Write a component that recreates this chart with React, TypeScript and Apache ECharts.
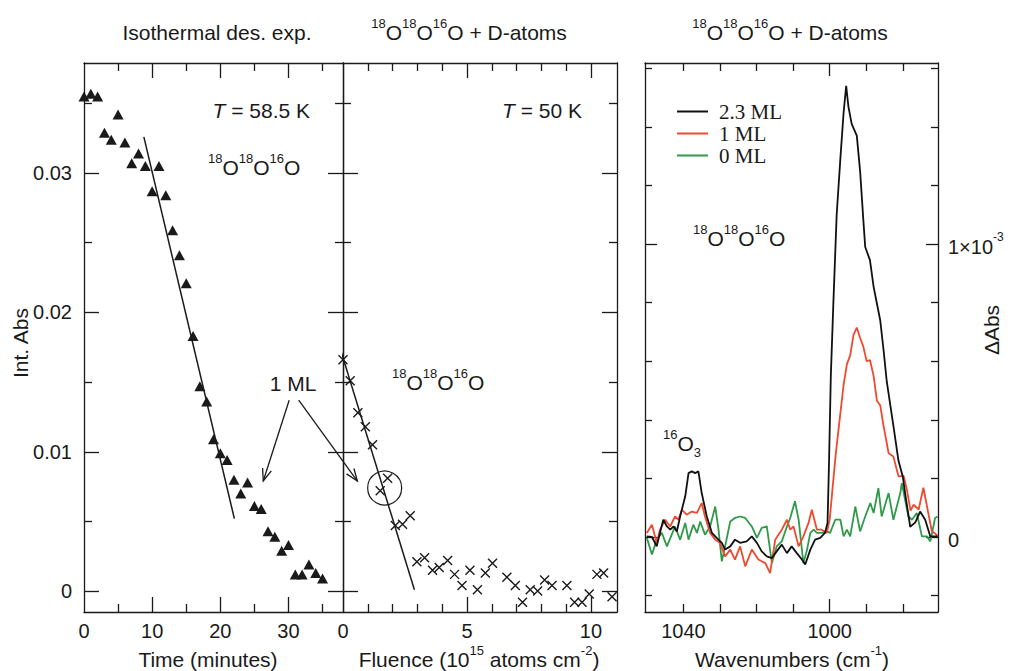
import { useEffect, useRef } from 'react';
import * as echarts from 'echarts';

const SANS = "'Liberation Sans', Arial, Helvetica, sans-serif";
const SERIF = "'Liberation Serif', 'Times New Roman', serif";
const INK = '#1a1a1a';

// ---------- Panel 1: isothermal desorption ----------
const timeMinutes = [0, 1, 2, 3, 4, 5, 6, 7, 8, 9, 10, 11, 12, 13, 14, 15, 16, 17, 18, 19, 20, 21, 22, 23, 24, 25, 26, 27, 28, 29, 30, 31, 32, 33, 34, 35];
const intAbsDesorption = [0.0355, 0.0357, 0.0355, 0.0329, 0.0324, 0.0342, 0.0322, 0.0307, 0.0314, 0.0305, 0.0287, 0.0305, 0.0284, 0.0259, 0.0241, 0.0221, 0.0183, 0.0147, 0.0136, 0.0109, 0.0099, 0.0094, 0.008, 0.007, 0.0078, 0.0061, 0.0059, 0.0043, 0.0039, 0.0029, 0.0033, 0.0012, 0.0012, 0.0019, 0.0013, 0.0009];
const fitTimeX = [8.78, 22.06];
const fitTimeY = [0.0326, 0.0052];

// ---------- Panel 2: D-atom fluence ----------
const fluence = [0.0, 0.29, 0.6, 0.9, 1.19, 1.5, 1.8, 2.11, 2.4, 2.71, 2.98, 3.29, 3.61, 3.88, 4.22, 4.5, 4.8, 5.12, 5.42, 5.74, 6.03, 6.61, 6.95, 7.24, 7.55, 7.85, 8.13, 8.43, 9.03, 9.34, 9.64, 9.93, 10.24, 10.51, 10.85];
const intAbsFluence = [0.0166, 0.0151, 0.0128, 0.0118, 0.0105, 0.0072, 0.0081, 0.0047, 0.0048, 0.0054, 0.0021, 0.0024, 0.0015, 0.0017, 0.0022, 0.0012, 0.0004, 0.0015, 0.0001, 0.0013, 0.002, 0.001, 0.0004, -0.0008, 0.0001, 0.0, 0.0008, 0.0004, 0.0004, -0.0008, -0.0008, -0.0002, 0.0012, 0.0013, -0.0004];
const fitFluenceX = [-0.2, 2.88];
const fitFluenceY = [0.0179, 0.0001];

// ---------- Panel 3: spectra (ΔAbs in units of 1e-3) ----------
const wn23 = [1050.0, 1048.6, 1047.3, 1046.4, 1045.5, 1044.5, 1043.6, 1042.7, 1041.8, 1040.9, 1039.5, 1038.6, 1037.7, 1036.8, 1035.9, 1035.0, 1033.6, 1032.2, 1030.9, 1029.5, 1028.6, 1027.2, 1025.9, 1024.5, 1022.7, 1021.3, 1019.9, 1018.6, 1017.2, 1015.8, 1014.5, 1013.1, 1011.7, 1010.4, 1009.0, 1007.6, 1006.7, 1005.3, 1004.0, 1002.6, 1001.3, 1000.6, 1000.2, 999.7, 999.0, 998.1, 997.1, 996.2, 995.5, 994.9, 994.0, 992.6, 991.7, 990.8, 990.3, 989.0, 988.0, 987.1, 986.2, 985.3, 984.4, 982.6, 981.2, 980.0, 979.4, 978.0, 976.6, 975.3, 973.9, 972.5, 970.5];
const abs23 = [0.002, 0.0, -0.032, 0.014, 0.059, 0.036, 0.025, 0.036, 0.019, 0.07, 0.139, 0.218, 0.224, 0.218, 0.224, 0.15, 0.07, 0.014, -0.003, -0.02, -0.043, -0.032, -0.009, -0.02, -0.015, 0.002, -0.02, -0.049, -0.066, -0.072, -0.049, -0.026, -0.055, -0.032, -0.055, -0.077, -0.094, -0.043, -0.009, -0.003, 0.014, 0.048, 0.25, 0.55, 0.8, 1.1, 1.29, 1.45, 1.54, 1.47, 1.41, 1.37, 1.25, 1.08, 0.99, 0.945, 0.854, 0.797, 0.74, 0.64, 0.53, 0.38, 0.26, 0.205, 0.15, 0.035, 0.05, 0.087, 0.059, 0.002, 0.002];

const wn1 = [1050.0, 1048.6, 1047.3, 1046.4, 1045.0, 1043.6, 1042.3, 1041.4, 1040.4, 1039.1, 1037.7, 1036.3, 1035.0, 1034.1, 1032.7, 1031.3, 1030.0, 1028.6, 1027.2, 1025.9, 1024.5, 1023.1, 1021.3, 1019.5, 1017.6, 1016.3, 1014.9, 1013.1, 1011.7, 1010.8, 1009.9, 1008.5, 1007.2, 1005.8, 1004.9, 1003.5, 1002.2, 1000.8, 1000.0, 999.2, 998.3, 997.2, 996.2, 995.3, 994.4, 993.5, 992.6, 991.7, 990.8, 989.9, 989.0, 988.0, 987.1, 986.2, 985.3, 983.9, 982.6, 981.2, 979.8, 978.9, 977.9, 977.1, 976.2, 975.7, 974.4, 973.4, 972.1, 971.0, 970.5];
const abs1 = [0.014, 0.042, -0.02, 0.025, 0.059, 0.036, 0.07, 0.059, 0.093, 0.076, 0.087, 0.082, 0.116, 0.07, 0.014, -0.009, -0.02, -0.066, -0.043, -0.077, -0.032, -0.1, -0.043, -0.077, -0.089, -0.123, -0.009, 0.025, 0.059, 0.025, 0.036, -0.032, 0.002, 0.048, 0.093, 0.025, 0.025, 0.014, 0.06, 0.17, 0.29, 0.41, 0.52, 0.59, 0.62, 0.69, 0.715, 0.68, 0.649, 0.6, 0.604, 0.55, 0.465, 0.45, 0.38, 0.286, 0.275, 0.207, 0.209, 0.161, 0.09, 0.11, 0.1, 0.093, 0.168, 0.104, 0.02, 0.01, 0.002];

const wn0 = [1050.0, 1048.6, 1047.3, 1045.9, 1044.5, 1043.2, 1042.3, 1040.9, 1039.5, 1038.6, 1037.3, 1036.3, 1035.4, 1034.1, 1032.7, 1031.3, 1030.4, 1029.5, 1028.6, 1027.2, 1025.9, 1024.5, 1023.1, 1021.3, 1019.9, 1018.6, 1017.2, 1015.8, 1014.5, 1013.1, 1011.7, 1010.8, 1009.5, 1008.5, 1007.2, 1006.3, 1005.3, 1004.4, 1003.5, 1002.2, 1000.8, 999.9, 998.5, 997.1, 996.2, 995.3, 994.4, 993.0, 991.7, 990.3, 988.9, 988.0, 986.7, 985.8, 983.9, 982.6, 980.7, 980.3, 979.4, 978.5, 977.5, 976.2, 974.8, 973.4, 972.5, 971.2, 970.5];
const abs0 = [-0.003, -0.06, -0.009, 0.014, -0.032, 0.008, 0.036, -0.009, 0.048, -0.009, 0.042, 0.014, 0.053, 0.008, 0.036, 0.104, 0.025, -0.083, -0.032, 0.053, 0.065, 0.07, 0.065, 0.036, -0.003, 0.031, 0.036, -0.089, -0.032, -0.015, 0.036, 0.065, 0.122, 0.059, -0.089, -0.049, 0.014, 0.025, 0.014, 0.014, 0.019, 0.014, 0.059, 0.059, 0.002, 0.025, 0.002, 0.104, 0.019, 0.07, 0.116, 0.082, 0.167, 0.07, 0.15, 0.059, 0.15, 0.184, 0.127, 0.07, 0.059, 0.082, 0.002, 0.002, -0.015, 0.065, 0.07];

const legendNames = ['2.3 ML', '1 ML', '0 ML'];
const spectraColors = ['#111111', '#ee4a2f', '#2f9a4a'];

// tick / label values
const timeLabels = [0, 10, 20, 30];
const timeMajor = [10, 20, 30];
const timeMinor = [5, 15, 25, 35];
const fluLabels = [0, 5, 10];
const fluMajor = [5, 10];
const fluMinor = [1, 2, 3, 4, 6, 7, 8, 9];
const absLabels = [0, 0.01, 0.02, 0.03];
const absMajor = [0, 0.01, 0.02, 0.03];
const absMinor = [0.005, 0.015, 0.025, 0.035];
const wnLabels = [1040, 1000];
const wnMajor = [1000];
const wnMinor = [980, 990, 1010, 1020, 1030, 1040];
const dLabels = [0, 1];
const dMajor = [0, 1];
const dMinor = [-0.2, 0.2, 0.4, 0.6, 0.8, 1.2, 1.4, 1.6];

const zip = (a: number[], b: number[]) => a.map((v, i) => [v, b[i]]);

const RICH_G: any = {
  n: { font: `21px ${SANS}`, fontFamily: SANS, fontSize: 21, lineHeight: 24, verticalAlign: 'middle', fill: INK },
  it: { font: `italic 21px ${SANS}`, fontFamily: SANS, fontSize: 21, fontStyle: 'italic', lineHeight: 24, verticalAlign: 'middle', fill: INK },
  sup: { font: `13px ${SANS}`, fontFamily: SANS, fontSize: 13, lineHeight: 13, padding: [0, 0, 18, 0], verticalAlign: 'middle', fill: INK },
  sub: { font: `13px ${SANS}`, fontFamily: SANS, fontSize: 13, lineHeight: 13, padding: [19, 0, 0, 0], verticalAlign: 'middle', fill: INK },
};

type AxisSpec = {
  grid: number; min: number; max: number; major: number[]; minor: number[];
  nearLabels?: number[]; farLabels?: number[]; majorLen: number; minorLen: number;
  inverse?: boolean; formatter?: (v: number) => string; rich?: any; margin?: number;
};

function makeAxes(dim: 'x' | 'y', s: AxisSpec) {
  const near = dim === 'x' ? 'bottom' : 'left';
  const far = dim === 'x' ? 'top' : 'right';
  const lineStyle = { color: INK, width: 1.3 };
  const mk = (position: string, ticks: number[], len: number, withLine: boolean, labels?: number[]) => ({
    type: 'value', gridIndex: s.grid, min: s.min, max: s.max, inverse: !!s.inverse, position,
    splitLine: { show: false },
    axisLine: { show: withLine, onZero: false, lineStyle },
    axisTick: { show: true, inside: true, length: len, customValues: ticks, lineStyle },
    axisLabel: labels
      ? { show: true, customValues: labels, formatter: s.formatter, margin: s.margin ?? 10, fontFamily: SANS, fontSize: 20, color: INK, rich: s.rich }
      : { show: false },
  });
  return [
    mk(near, s.major, s.majorLen, true, s.nearLabels),
    mk(near, s.minor, s.minorLen, false),
    mk(far, s.major, s.majorLen, true, s.farLabels),
    mk(far, s.minor, s.minorLen, false),
  ];
}

const Y_MIN = -0.0015;
const Y_MAX = 0.0379;

function buildOption() {
  const xAxes = [
    ...makeAxes('x', { grid: 0, min: 0, max: 38, major: timeMajor, minor: timeMinor, nearLabels: timeLabels, majorLen: 15, minorLen: 8, margin: 9, formatter: (v) => String(v) }),
    ...makeAxes('x', { grid: 1, min: 0, max: 11.05, major: fluMajor, minor: fluMinor, nearLabels: fluLabels, majorLen: 15, minorLen: 8, margin: 9, formatter: (v) => String(v) }),
    ...makeAxes('x', { grid: 2, min: 970.4, max: 1050.5, inverse: true, major: wnMajor, minor: wnMinor, nearLabels: wnLabels, majorLen: 13, minorLen: 8, margin: 9, formatter: (v) => String(v) }),
  ];
  const yAxes = [
    ...makeAxes('y', { grid: 0, min: Y_MIN, max: Y_MAX, major: absMajor, minor: absMinor, nearLabels: absLabels, majorLen: 15, minorLen: 8, margin: 12, formatter: (v) => (v === 0 ? '0' : v.toFixed(2)) }),
    ...makeAxes('y', { grid: 1, min: Y_MIN, max: Y_MAX, major: absMajor, minor: absMinor, majorLen: 15, minorLen: 8 }),
    ...makeAxes('y', {
      grid: 2, min: -0.256, max: 1.618, major: dMajor, minor: dMinor, farLabels: dLabels, majorLen: 12, minorLen: 7, margin: 10,
      formatter: (v) => (v === 0 ? '{n|0}' : '{n|1×10}{sup|-3}'),
      rich: {
        n: { fontFamily: SANS, fontSize: 20, color: INK, lineHeight: 26, verticalAlign: 'bottom' },
        sup: { fontFamily: SANS, fontSize: 12, color: INK, lineHeight: 12, verticalAlign: 'top' },
      },
    }),
  ];

  const spectra = [
    { name: legendNames[2], wn: wn0, v: abs0, color: spectraColors[2] },
    { name: legendNames[1], wn: wn1, v: abs1, color: spectraColors[1] },
    { name: legendNames[0], wn: wn23, v: abs23, color: spectraColors[0] },
  ];

  return {
    animation: false,
    backgroundColor: '#ffffff',
    grid: [
      { left: 84, top: 63, width: 259, height: 549 },
      { left: 343, top: 63, width: 274, height: 549 },
      { left: 645, top: 63, width: 293, height: 549 },
    ],
    xAxis: xAxes,
    yAxis: yAxes,
    legend: {
      data: legendNames,
      orient: 'vertical',
      left: 672,
      top: 96,
      itemWidth: 31,
      itemHeight: 2,
      itemGap: 1,
      icon: 'rect',
      selectedMode: false,
      textStyle: { fontFamily: SERIF, fontSize: 21, color: INK, lineHeight: 21, padding: [0, 0, 0, 6] },
    },
    series: [
      {
        type: 'scatter', name: 'desorption', xAxisIndex: 0, yAxisIndex: 0,
        data: zip(timeMinutes, intAbsDesorption), symbol: 'triangle', symbolSize: [11, 10],
        itemStyle: { color: INK, opacity: 1 },
      },
      {
        type: 'line', name: 'fitTime', xAxisIndex: 0, yAxisIndex: 0, data: zip(fitTimeX, fitTimeY),
        symbol: 'none', lineStyle: { color: INK, width: 1.5 },
      },
      {
        type: 'scatter', name: 'fluence', xAxisIndex: 4, yAxisIndex: 4,
        data: zip(fluence, intAbsFluence), symbol: 'path://M0,0L10,10M10,0L0,10', symbolSize: 9,
        itemStyle: { color: 'none', borderColor: INK, borderWidth: 1.4, opacity: 1 },
      },
      {
        type: 'line', name: 'fitFluence', xAxisIndex: 4, yAxisIndex: 4, data: zip(fitFluenceX, fitFluenceY),
        symbol: 'none', clip: false, lineStyle: { color: INK, width: 1.5 },
      },
      ...spectra.map((s) => ({
        type: 'line', name: s.name, xAxisIndex: 8, yAxisIndex: 8, data: zip(s.wn, s.v),
        symbol: 'none', color: s.color, lineStyle: { color: s.color, width: 1.8 }, z: 3,
      })),
    ],
  };
}

function txt(x: number, y: number, text: string, extra: any = {}) {
  return {
    type: 'text', x, y, z: 20,
    style: { text, font: `21px ${SANS}`, fontFamily: SANS, fontSize: 21, fill: INK, align: 'center', verticalAlign: 'middle', rich: RICH_G, ...extra },
  };
}

function arrow(p0: number[], p1: number[]) {
  const ang = Math.atan2(p1[1] - p0[1], p1[0] - p0[0]);
  const L = 13;
  const sp = 0.36;
  const h1 = [p1[0] - L * Math.cos(ang - sp), p1[1] - L * Math.sin(ang - sp)];
  const h2 = [p1[0] - L * Math.cos(ang + sp), p1[1] - L * Math.sin(ang + sp)];
  return [
    { type: 'line', z: 20, shape: { x1: p0[0], y1: p0[1], x2: p1[0], y2: p1[1] }, style: { stroke: INK, lineWidth: 1.3 } },
    { type: 'polyline', z: 20, shape: { points: [h1, p1, h2] }, style: { stroke: INK, lineWidth: 1.3, fill: 'none' } },
  ];
}

const ISO = '{sup|18}{n|O}{sup|18}{n|O}{sup|16}{n|O}';

export default function App() {
  const ref = useRef<HTMLDivElement>(null);
  useEffect(() => {
    if (!ref.current) return;
    const chart = echarts.init(ref.current, null, { renderer: 'svg' });
    chart.setOption(buildOption() as any);

    const px = (g: number, x: number, y: number) => chart.convertToPixel({ gridIndex: g } as any, [x, y]) as number[];
    const a1 = arrow(px(0, 30.1, 0.0137), px(0, 26.3, 0.0079));
    const a2 = arrow(px(0, 31.5, 0.0137), px(1, 0.58, 0.0079));
    const cc = px(1, 1.68, 0.0074);

    const graphic = [
      txt(217, 32, '{n|Isothermal des. exp.}'),
      txt(469, 32, ISO + '{n| + D-atoms}'),
      txt(790, 32, ISO + '{n| + D-atoms}'),
      txt(208, 659, '{n|Time (minutes)}'),
      txt(479, 659, '{n|Fluence (10}{sup|15}{n| atoms cm}{sup|-2}{n|)}'),
      txt(792, 659, '{n|Wavenumbers (cm}{sup|-1}{n|)}'),
      { ...txt(20, 343, '{n|Int. Abs}'), rotation: Math.PI / 2 },
      { ...txt(991, 330, '{n|ΔAbs}'), rotation: Math.PI / 2 },
      txt(310, 110, '{it|T}{n| = 58.5 K}', { align: 'right' }),
      txt(208, 167, ISO, { align: 'left' }),
      txt(582, 110, '{it|T}{n| = 50 K}', { align: 'right' }),
      txt(392, 382, ISO, { align: 'left' }),
      txt(693, 238, ISO, { align: 'left' }),
      txt(663, 443, '{sup|16}{n|O}{sub|3}', { align: 'left' }),
      txt(293, 383, '{n|1 ML}'),
      ...a1,
      ...a2,
      { type: 'circle', z: 20, shape: { cx: cc[0], cy: cc[1], r: 17 }, style: { stroke: INK, lineWidth: 1.2, fill: 'none' } },
    ];
    chart.setOption({ graphic } as any);
    return () => chart.dispose();
  }, []);
  return <div ref={ref} style={{ position: 'fixed', left: 0, top: 0, width: 1011, height: 671, background: '#fff' }} />;
}
